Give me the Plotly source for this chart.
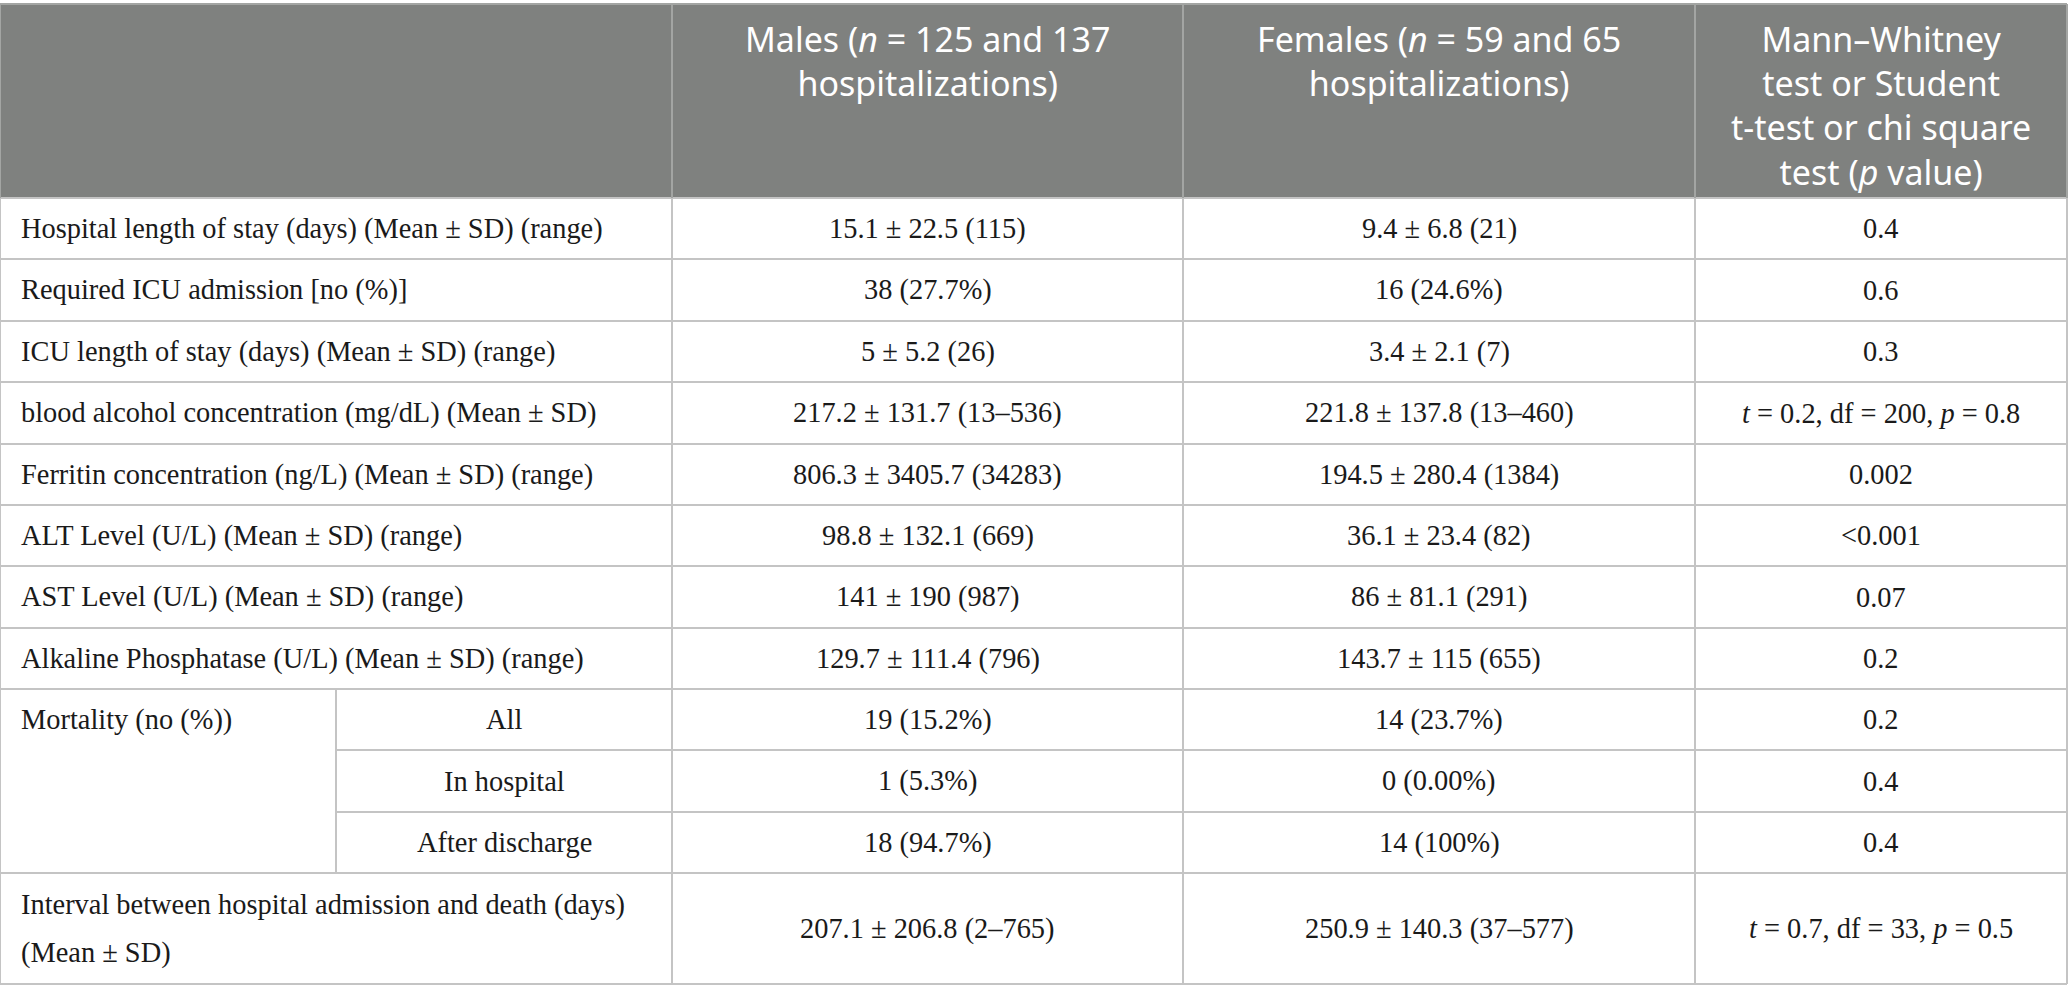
import plotly.graph_objects as go

# table content
header_labels = [
    "",
    "Males (<i>n</i> = 125 and 137<br>hospitalizations)",
    "Females (<i>n</i> = 59 and 65<br>hospitalizations)",
    "Mann–Whitney<br>test or Student<br>t-test or chi square<br>test (<i>p</i> value)",
]
row_labels = [
    "Hospital length of stay (days) (Mean ± SD) (range)",
    "Required ICU admission [no (%)]",
    "ICU length of stay (days) (Mean ± SD) (range)",
    "blood alcohol concentration (mg/dL) (Mean ± SD)",
    "Ferritin concentration (ng/L) (Mean ± SD) (range)",
    "ALT Level (U/L) (Mean ± SD) (range)",
    "AST Level (U/L) (Mean ± SD) (range)",
    "Alkaline Phosphatase (U/L) (Mean ± SD) (range)",
    "Mortality (no (%))",
    "",
    "",
    "Interval between hospital admission and death (days)\n(Mean ± SD)",
]
mortality_sub = ["All", "In hospital", "After discharge"]
males = [
    "15.1 ± 22.5 (115)",
    "38 (27.7%)",
    "5 ± 5.2 (26)",
    "217.2 ± 131.7 (13–536)",
    "806.3 ± 3405.7 (34283)",
    "98.8 ± 132.1 (669)",
    "141 ± 190 (987)",
    "129.7 ± 111.4 (796)",
    "19 (15.2%)",
    "1 (5.3%)",
    "18 (94.7%)",
    "207.1 ± 206.8 (2–765)",
]
females = [
    "9.4 ± 6.8 (21)",
    "16 (24.6%)",
    "3.4 ± 2.1 (7)",
    "221.8 ± 137.8 (13–460)",
    "194.5 ± 280.4 (1384)",
    "36.1 ± 23.4 (82)",
    "86 ± 81.1 (291)",
    "143.7 ± 115 (655)",
    "14 (23.7%)",
    "0 (0.00%)",
    "14 (100%)",
    "250.9 ± 140.3 (37–577)",
]
p_values = [
    "0.4",
    "0.6",
    "0.3",
    "<i>t</i> = 0.2, df = 200, <i>p</i> = 0.8",
    "0.002",
    "&lt;0.001",
    "0.07",
    "0.2",
    "0.2",
    "0.4",
    "0.4",
    "<i>t</i> = 0.7, df = 33, <i>p</i> = 0.5",
]

# layout (pixel grid)
W, H = 2068, 1000
col_edges = [0, 672, 1183, 1695, 2067]
sub_edge = 336
row_edges = [4, 198, 259, 321, 382, 444, 505, 566, 628, 689, 750, 812, 873, 984]
mort_start = 8  # index of first mortality row

HEADER_BG = "#7f817f"
LINE = "#c4c4c4"
HEAD_LINE = "#a3a5a3"
body_font = dict(family="Liberation Serif, Times New Roman, serif", size=28.4, color="#1a1a1a")
head_font = dict(family="Noto Sans, Open Sans, sans-serif", size=34, color="white")

fig = go.Figure()
shapes = []
annotations = []

# header background
shapes.append(dict(type="rect", x0=col_edges[0], x1=col_edges[-1], y0=row_edges[0], y1=row_edges[1],
                   fillcolor=HEADER_BG, line=dict(width=0), layer="below"))

# horizontal lines (the two inside the mortality block start at the sub column)
for i, y in enumerate(row_edges):
    x0 = col_edges[0]
    if mort_start + 2 <= i <= mort_start + 3:
        x0 = sub_edge
    shapes.append(dict(type="line", x0=x0, x1=col_edges[-1], y0=y, y1=y,
                       line=dict(color=HEAD_LINE if i == 0 else LINE, width=2)))

# vertical lines
for j, x in enumerate(col_edges):
    shapes.append(dict(type="line", x0=x, x1=x, y0=row_edges[0], y1=row_edges[1],
                       line=dict(color=HEAD_LINE, width=2)))
    shapes.append(dict(type="line", x0=x, x1=x, y0=row_edges[1], y1=row_edges[-1],
                       line=dict(color=LINE, width=2)))
shapes.append(dict(type="line", x0=sub_edge, x1=sub_edge,
                   y0=row_edges[mort_start + 1], y1=row_edges[mort_start + 4],
                   line=dict(color=LINE, width=2)))

# header text
for j, lab in enumerate(header_labels):
    if not lab:
        continue
    annotations.append(dict(x=(col_edges[j] + col_edges[j + 1]) / 2, y=14, text=lab,
                            xanchor="center", yanchor="top", align="center",
                            showarrow=False, font=head_font))

# body rows
for i in range(len(row_labels)):
    top, bot = row_edges[i + 1], row_edges[i + 2]
    yc = (top + bot) / 2
    lab = row_labels[i]
    if lab:
        lines = lab.split("\n")
        gap = 48
        y0 = yc - gap * (len(lines) - 1) / 2
        for k, ln in enumerate(lines):
            annotations.append(dict(x=19, y=y0 + k * gap, text=ln, xanchor="left", yanchor="middle",
                                    showarrow=False, font=body_font))
    if mort_start <= i < mort_start + 3:
        annotations.append(dict(x=(sub_edge + col_edges[1]) / 2, y=yc, text=mortality_sub[i - mort_start],
                                xanchor="center", yanchor="middle", showarrow=False, font=body_font))
    for j, vals in enumerate([males, females, p_values]):
        annotations.append(dict(x=(col_edges[j + 1] + col_edges[j + 2]) / 2, y=yc, text=vals[i],
                                xanchor="center", yanchor="middle", showarrow=False, font=body_font))

fig.update_layout(
    width=W, height=H,
    margin=dict(l=0, r=0, t=0, b=0),
    plot_bgcolor="white", paper_bgcolor="white",
    xaxis=dict(range=[0, W], visible=False, fixedrange=True),
    yaxis=dict(range=[H, 0], visible=False, fixedrange=True),
    shapes=shapes, annotations=annotations,
    showlegend=False,
)

# drop the page's default body margin so the table sits at the window edge
fig.write_html("out.html", config={"displayModeBar": False},
               post_script="document.body.style.margin='0px';")
